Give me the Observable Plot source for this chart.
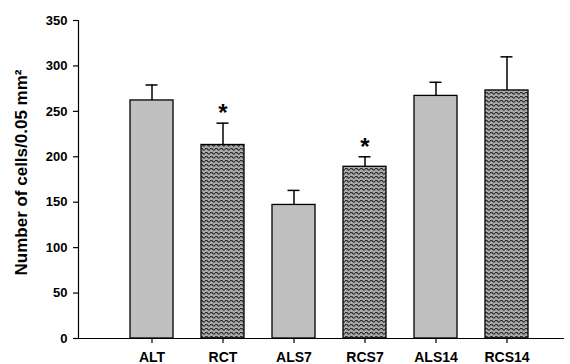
<!DOCTYPE html>
<html>
<head>
<meta charset="utf-8">
<script src="https://cdn.jsdelivr.net/npm/d3@7"></script>
<script src="https://cdn.jsdelivr.net/npm/@observablehq/plot@0.6"></script>
<style>
  html, body { margin: 0; padding: 0; background: #fff; }
</style>
</head>
<body>
<div id="chart"></div>
<script>
const categories = ["ALT", "RCT", "ALS7", "RCS7", "ALS14", "RCS14"];
const means = [262, 213, 147, 189, 267, 273];
const errors = [17, 24, 16, 11, 15, 37];
const patterned = [false, true, false, true, false, true];
const stars = [{cat: "RCT", y: 256}, {cat: "RCS7", y: 218}];
const yTicks = [0, 50, 100, 150, 200, 250, 300, 350];
const yLabel = "Number of cells/0.05 mm²";

const data = categories.map((c, i) => ({cat: c, mean: means[i], top: means[i] + errors[i], pat: patterned[i]}));

const font = "Liberation Sans, Arial, Helvetica, sans-serif";

const chart = Plot.plot({
  width: 570,
  height: 364,
  marginLeft: 78,
  marginRight: 7,
  marginTop: 20,
  marginBottom: 26,
  style: {fontFamily: font, background: "#fff", color: "#000"},
  x: {domain: categories, range: [114, 544], paddingInner: 0.4, paddingOuter: 0.2, label: null},
  y: {domain: [0, 350], label: null},
  marks: [
    Plot.ruleX(data, {x: "cat", y1: "mean", y2: "top", stroke: "#000", strokeWidth: 1.5}),
    Plot.tickY(data, {x: "cat", y: "top", stroke: "#000", strokeWidth: 1.5, insetLeft: 15.5, insetRight: 15.5}),
    Plot.barY(data.filter(d => !d.pat), {x: "cat", y: "mean", fill: "#c0c0c0", stroke: "#000", strokeWidth: 1.3}),
    Plot.barY(data.filter(d => d.pat), {x: "cat", y: "mean", fill: "url(#wave)", stroke: "#000", strokeWidth: 1.3}),
    Plot.text(stars, {x: "cat", y: "y", text: () => "*", fontSize: 24, fontWeight: "bold", dy: 7}),
    Plot.frame({anchor: "left", stroke: "#000", strokeWidth: 1.2}),
    Plot.frame({anchor: "bottom", stroke: "#000", strokeWidth: 1.2}),
    Plot.axisY({ticks: yTicks, tickSize: 5, tickPadding: 6, fontSize: 13, fontWeight: "bold", label: null, stroke: "#000", strokeWidth: 1.2}),
    Plot.axisX({tickSize: 5, tickPadding: 9, fontSize: 14, fontWeight: "bold", label: null, stroke: "#000", strokeWidth: 1.2}),
    Plot.text([yLabel], {frameAnchor: "left", textAnchor: "middle", rotate: -90, dx: -57, dy: -7, fontSize: 17, fontWeight: "bold", text: d => d})
  ]
});

// wavy pattern
const ns = "http://www.w3.org/2000/svg";
const defs = document.createElementNS(ns, "defs");
const pat = document.createElementNS(ns, "pattern");
pat.setAttribute("id", "wave");
pat.setAttribute("patternUnits", "userSpaceOnUse");
pat.setAttribute("width", "5");
pat.setAttribute("height", "4");
const bg = document.createElementNS(ns, "rect");
bg.setAttribute("width", "5");
bg.setAttribute("height", "4");
bg.setAttribute("fill", "#a9a9a9");
pat.appendChild(bg);
const p = document.createElementNS(ns, "path");
p.setAttribute("d", "M0 1.2 Q1.25 -0.6 2.5 1.2 T5 1.2");
p.setAttribute("fill", "none");
p.setAttribute("stroke", "#1e1e1e");
p.setAttribute("stroke-width", "1.1");
pat.appendChild(p);
defs.appendChild(pat);
chart.insertBefore(defs, chart.firstChild);

document.getElementById("chart").appendChild(chart);
</script>
</body>
</html>
